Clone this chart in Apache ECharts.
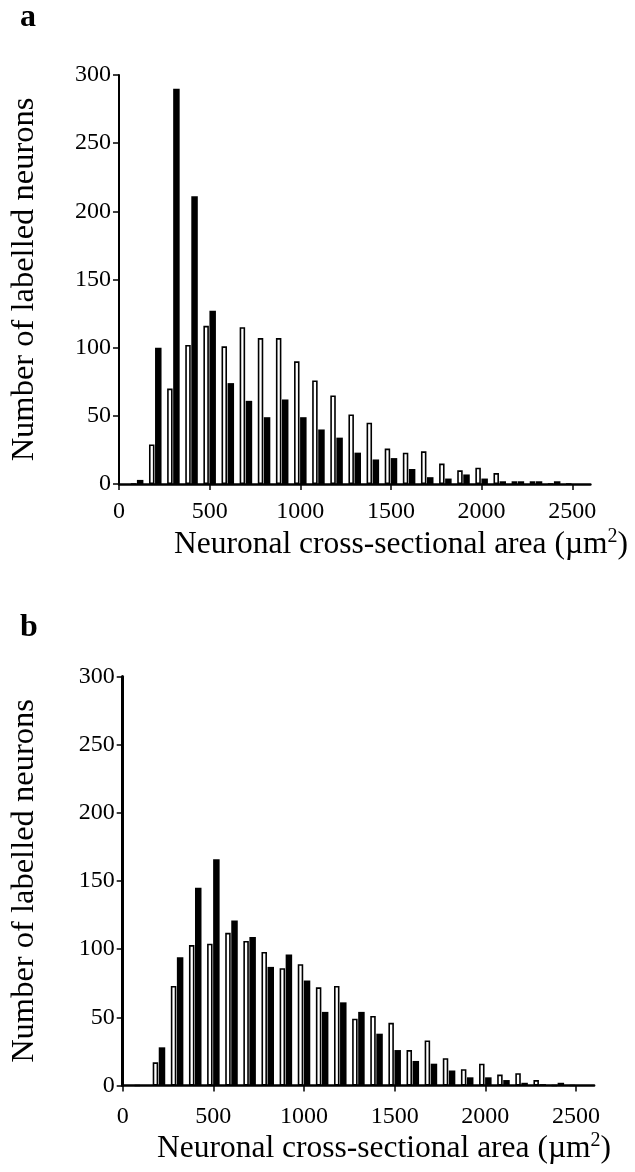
<!DOCTYPE html>
<html><head><meta charset="utf-8">
<script src="https://cdn.jsdelivr.net/npm/echarts@6/dist/echarts.min.js"></script>
<style>html,body{margin:0;padding:0;background:#fff}#c{width:635px;height:1172px}</style>
</head><body><div id="c"></div>
<script>
const bins = [100,200,300,400,500,600,700,800,900,1000,1100,1200,1300,1400,1500,1600,1700,1800,1900,2000,2100,2200,2300,2400,2500];
const aOpen   = [0,29,70,102,116,101,115,107,107,90,76,65,51,45,26,23,24,15,10,12,8,2,2,0,0];
const aFilled = [3,100,290,211,127,74,61,49,62,49,40,34,23,18,19,11,5,4,7,4,2,2,2,2,0];
const bOpen   = [0,17,73,103,104,112,106,98,86,89,72,73,49,51,46,26,33,20,12,16,8,9,4,0,0];
const bFilled = [0,28,94,145,166,121,109,87,96,77,54,61,54,38,26,18,16,11,6,6,4,2,1,2,0];
const xTickValues = [0,500,1000,1500,2000,2500];
const yMax = 300, yStep = 50;
const yTitle = 'Number of labelled neurons';
const xTitle = 'Neuronal cross-sectional area (µm';

const FONT = 'Liberation Serif';
const chart = echarts.init(document.getElementById('c'), null, {renderer:'canvas'});

function xAxis(gi){
  return {
    type:'value', gridIndex:gi, min:0, max:2600,
    axisLine:{show:true, lineStyle:{color:'#000', width:2.5}},
    axisTick:{show:true, customValues:xTickValues, length:6, inside:false, lineStyle:{color:'#000', width:1.5}},
    axisLabel:{customValues:xTickValues, color:'#000', fontFamily:FONT, fontSize:24, margin:gi===0?16:19, formatter:v=>String(v)},
    splitLine:{show:false}
  };
}
function yAxis(gi, w){
  return {
    type:'value', gridIndex:gi, min:0, max:yMax, interval:yStep,
    name:yTitle, nameLocation:'middle', nameRotate:90, nameGap:gi===0?78:82,
    nameTextStyle:{color:'#000', fontFamily:FONT, fontSize:32.5},
    axisLine:{show:true, lineStyle:{color:'#000', width:w}},
    axisTick:{show:true, length:6, lineStyle:{color:'#000', width:1.5}},
    axisLabel:{color:'#000', fontFamily:FONT, fontSize:24, margin:8, formatter:v=>String(v)},
    splitLine:{show:false}
  };
}
function openSeries(gi, vals){
  return {type:'bar', xAxisIndex:gi, yAxisIndex:gi, barWidth:5.5, barGap:'10%',
    data:bins.map((b,i)=>[b, vals[i]]),
    itemStyle:{color:'#fff', borderColor:'#000', borderWidth:1.6}, silent:true};
}
function filledSeries(gi, vals){
  return {type:'bar', xAxisIndex:gi, yAxisIndex:gi, barWidth:6.5, barGap:'10%',
    data:bins.map((b,i)=>[b, vals[i]]),
    itemStyle:{color:'#000'}, silent:true};
}
const rich = {n:{fontFamily:FONT, fontSize:31.5, color:'#000'}, s:{fontFamily:FONT, fontSize:20, color:'#000', padding:[0,0,15,0]}};
chart.setOption({
  animation:false,
  backgroundColor:'#fff',
  grid:[
    {left:119, top:75, width:471.4, height:409, containLabel:false, outerBoundsMode:'none'},
    {left:122.7, top:676.5, width:471.4, height:409, containLabel:false, outerBoundsMode:'none'}
  ],
  xAxis:[xAxis(0), xAxis(1)],
  yAxis:[yAxis(0,2), yAxis(1,3)],
  series:[openSeries(0,aOpen), filledSeries(0,aFilled), openSeries(1,bOpen), filledSeries(1,bFilled)],
  graphic:[
    {type:'text', left:20, top:2, style:{text:'a', fontFamily:FONT, fontWeight:'bold', fontSize:32, fill:'#000'}},
    {type:'text', left:20, top:612, style:{text:'b', fontFamily:FONT, fontWeight:'bold', fontSize:32, fill:'#000'}},
    {type:'text', left:174, top:527, style:{text:'{n|'+xTitle+'}{s|2}{n|)}', rich:rich}},
    {type:'text', left:157, top:1131, style:{text:'{n|'+xTitle+'}{s|2}{n|)}', rich:rich}}
  ]
});
</script></body></html>
